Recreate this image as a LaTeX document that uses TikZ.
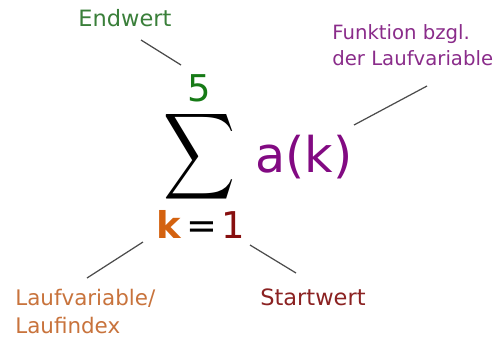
\documentclass[tikz,border=0pt]{standalone}
\usepackage{fontspec}
\setmainfont{DejaVu Sans}
\usepackage{graphicx}
\usetikzlibrary{positioning}
\definecolor{endgreen}{HTML}{3A7F3A}
\definecolor{fivegreen}{HTML}{167A16}
\definecolor{termpurple}{HTML}{820A82}
\definecolor{funcpurple}{HTML}{8A2C8A}
\definecolor{korange}{HTML}{D4620F}
\definecolor{runorange}{HTML}{C8733C}
\definecolor{onered}{HTML}{870F0F}
\definecolor{startred}{HTML}{8B2222}

\begin{document}
\begin{tikzpicture}[x=0.02cm, y=-0.02cm,
  caption/.style={inner sep=0pt, anchor=base west, align=left, font=\fontsize{12.8}{15}\selectfont},
  part/.style={inner sep=0pt, font=\fontsize{21}{25}\selectfont},
  pointer/.style={draw=black!70, line width=0.7pt}]
\useasboundingbox (0,0) rectangle (500,339);
% the sum and its parts
\node[inner sep=0pt] (sum) at (200,157) {\resizebox*{41pt}{55pt}{$\displaystyle\sum$}};
\node[part, anchor=base west, text=fivegreen] (upper) at (187,101) {5};
\node[part, anchor=base west, text=korange, font=\fontsize{21}{25}\selectfont\bfseries] (index) at (156,238) {k};
\node[part, base right=3pt of index] (eq) {=};
\node[part, base right=2pt of eq, text=onered] (lower) {1};
\node[inner sep=0pt, anchor=base west, text=termpurple, font=\fontsize{28}{33}\selectfont] (term) at (255,172) {a(k)};
% captions (base is the last line)
\node[caption, text=endgreen] (endwert) at (78,26) {Endwert};
\node[caption, text=funcpurple, font=\fontsize{11.2}{14.4}\selectfont] (funktion) at (332,65) {Funktion bzgl.\\der Laufvariable};
\node[caption, text=runorange, font=\fontsize{12.2}{15.4}\selectfont] (laufvar) at (15,333) {Laufvariable/\\Laufindex};
\node[caption, text=startred] (startwert) at (260,305) {Startwert};
% pointers
\coordinate (endwert tip) at (141,40);
\coordinate (upper tip) at (181,65);
\coordinate (funktion tip) at (427,86);
\coordinate (term tip) at (354,125);
\coordinate (laufvar tip) at (87,278);
\coordinate (index tip) at (143,242);
\coordinate (startwert tip) at (296,273);
\coordinate (lower tip) at (250,245);
\draw[pointer] (endwert tip) -- (upper tip);
\draw[pointer] (funktion tip) -- (term tip);
\draw[pointer] (laufvar tip) -- (index tip);
\draw[pointer] (startwert tip) -- (lower tip);
\end{tikzpicture}
\end{document}
